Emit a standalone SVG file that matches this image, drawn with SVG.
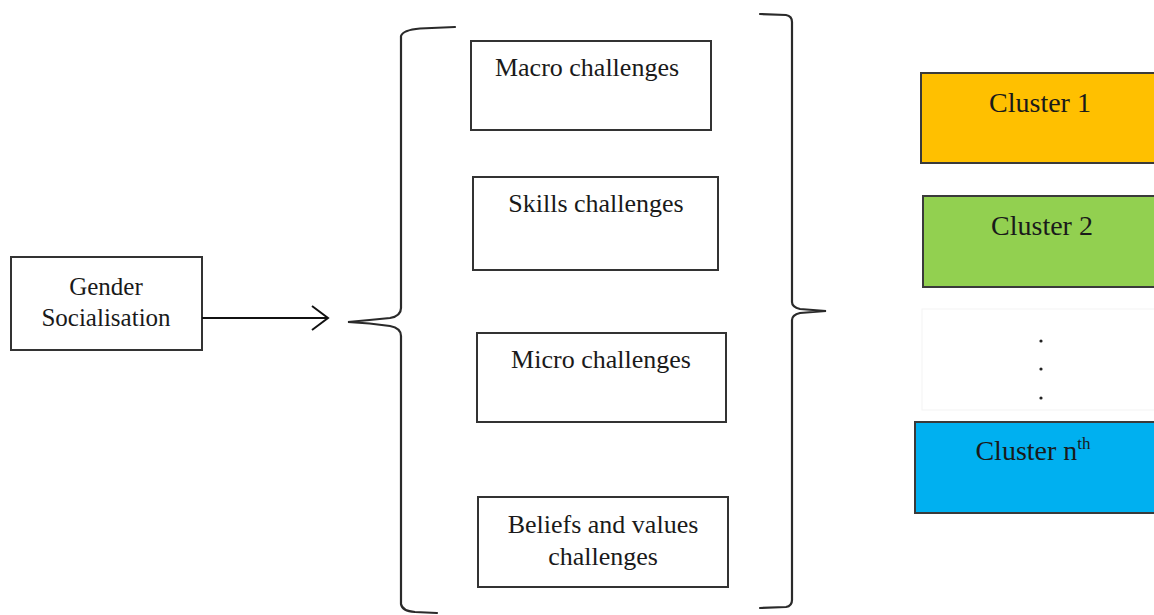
<svg xmlns="http://www.w3.org/2000/svg" width="1154" height="615" viewBox="0 0 1154 615">
<style>
.box{fill:#ffffff;stroke:#333333;stroke-width:2}
.cl{stroke:#3a3a3a;stroke-width:2}
.t{font-family:"Liberation Serif","Times New Roman",serif;fill:#1a1a1a;text-anchor:middle}
.t25{font-size:25px}
.t26{font-size:26px}
.t28{font-size:28px}
.brace{fill:none;stroke:#2a2a2a;stroke-width:2.2;stroke-linecap:round}
.conn{fill:none;stroke:#111111;stroke-width:2}
</style>
<defs>
<marker id="arr" markerWidth="20" markerHeight="30" refX="17" refY="13" orient="auto" markerUnits="userSpaceOnUse">
<path d="M1,1 L17,13 L1,25" fill="none" stroke="#111111" stroke-width="2"/>
</marker>
</defs>
<rect width="1154" height="615" fill="#ffffff"/>

<g id="gender">
<rect class="box" x="11" y="257" width="191" height="93"/>
<text class="t t25" x="106" y="295">Gender</text>
<text class="t t25" x="106" y="326">Socialisation</text>
</g>

<g id="connectors">
<line class="conn" x1="202" y1="318" x2="328" y2="318" marker-end="url(#arr)"/>
<path class="brace" d="M455,27 L420,28.5 Q403,30 401,36 L401,308 Q401,316 390,318 Q370,320 348,322 Q370,323 390,326 Q401,328 401,336 L401,604 Q402,611 415,612 L437,613"/>
<path class="brace" d="M760,14 L786,15 Q792,16 792,22 L792,302 Q792,307 800,309 L826,311 L800,313 Q792,315 792,320 L792,600 Q792,606 786,607 L760,608"/>
</g>

<g id="macro">
<rect class="box" x="471" y="41" width="240" height="89"/>
<text class="t t26" x="587" y="76">Macro challenges</text>
</g>
<g id="skills">
<rect class="box" x="473" y="177" width="245" height="93"/>
<text class="t t26" x="596" y="212">Skills challenges</text>
</g>
<g id="micro">
<rect class="box" x="477" y="333" width="249" height="89"/>
<text class="t t26" x="601" y="368">Micro challenges</text>
</g>
<g id="beliefs">
<rect class="box" x="478" y="497" width="250" height="90"/>
<text class="t t26" x="603" y="533">Beliefs and values</text>
<text class="t t26" x="603" y="565">challenges</text>
</g>

<g id="cluster1">
<rect class="cl" x="921" y="73" width="300" height="90" fill="#FFC000"/>
<text class="t t28" x="1040" y="112">Cluster 1</text>
</g>
<g id="cluster2">
<rect class="cl" x="923" y="196" width="300" height="91" fill="#92D050"/>
<text class="t t28" x="1042" y="235">Cluster 2</text>
</g>
<g id="dots">
<rect x="922" y="309" width="300" height="101" fill="#ffffff" stroke="#f3f3f3" stroke-width="1"/>
<circle cx="1041" cy="341" r="1.6" fill="#222222"/>
<circle cx="1041" cy="369" r="1.6" fill="#222222"/>
<circle cx="1041" cy="398" r="1.6" fill="#222222"/>
</g>
<g id="clustern">
<rect class="cl" x="915" y="422" width="300" height="91" fill="#00B0F0"/>
<text class="t t28" x="1033" y="460">Cluster n<tspan font-size="17" dy="-11">th</tspan></text>
</g>
</svg>
